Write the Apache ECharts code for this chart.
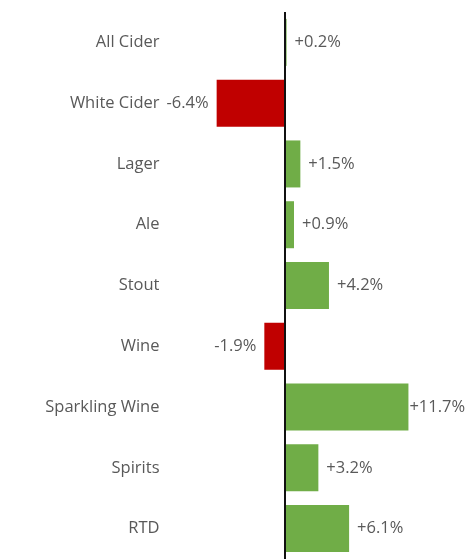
<!DOCTYPE html>
<html>
<head>
<meta charset="utf-8">
<title>Category growth</title>
<script src="https://cdn.jsdelivr.net/npm/echarts@6/dist/echarts.min.js"></script>
<style>
  html, body { margin: 0; padding: 0; background: #fff; }
  #chart { width: 468px; height: 559px; }
</style>
</head>
<body>
<div id="chart"></div>
<script>
// categories top to bottom
const categories = ["All Cider", "White Cider", "Lager", "Ale", "Stout", "Wine", "Sparkling Wine", "Spirits", "RTD"];
// % change
const changes = [0.2, -6.4, 1.5, 0.9, 4.2, -1.9, 11.7, 3.2, 6.1];

const GREEN = "#70AD47";
const RED = "#C00000";
const TEXT = "#595959";
const FONT = "'Open Sans', sans-serif";

const fmt = (v) => (v > 0 ? "+" : "") + v.toFixed(1) + "%";

const chart = echarts.init(document.getElementById("chart"));
chart.setOption({
  backgroundColor: "#fff",
  animation: false,
  grid: { left: 178.5, right: 14, top: 12, height: 553 },
  xAxis: {
    type: "value",
    min: -10,
    max: 16,
    show: false,
    splitLine: { show: false },
  },
  yAxis: {
    type: "category",
    inverse: true,
    data: categories,
    axisLine: { show: false, onZero: false },
    axisTick: { show: false },
    axisLabel: { margin: 19, color: TEXT, fontSize: 16.5, fontFamily: FONT },
  },
  series: [
    {
      type: "bar",
      barWidth: 47,
      data: changes.map((v) => ({
        value: v,
        itemStyle: { color: v < 0 ? RED : GREEN },
        // the long bar's label sits tight against the bar
        label: { position: v < 0 ? "left" : "right", distance: v > 10 ? 1 : 8 },
      })),
      label: {
        show: true,
        color: TEXT,
        fontSize: 16.5,
        fontFamily: FONT,
        formatter: (p) => fmt(p.value),
      },
      markLine: {
        silent: true,
        symbol: "none",
        label: { show: false },
        lineStyle: { color: "#111", width: 2, type: "solid" },
        data: [{ xAxis: 0 }],
      },
    },
  ],
});
</script>
</body>
</html>
